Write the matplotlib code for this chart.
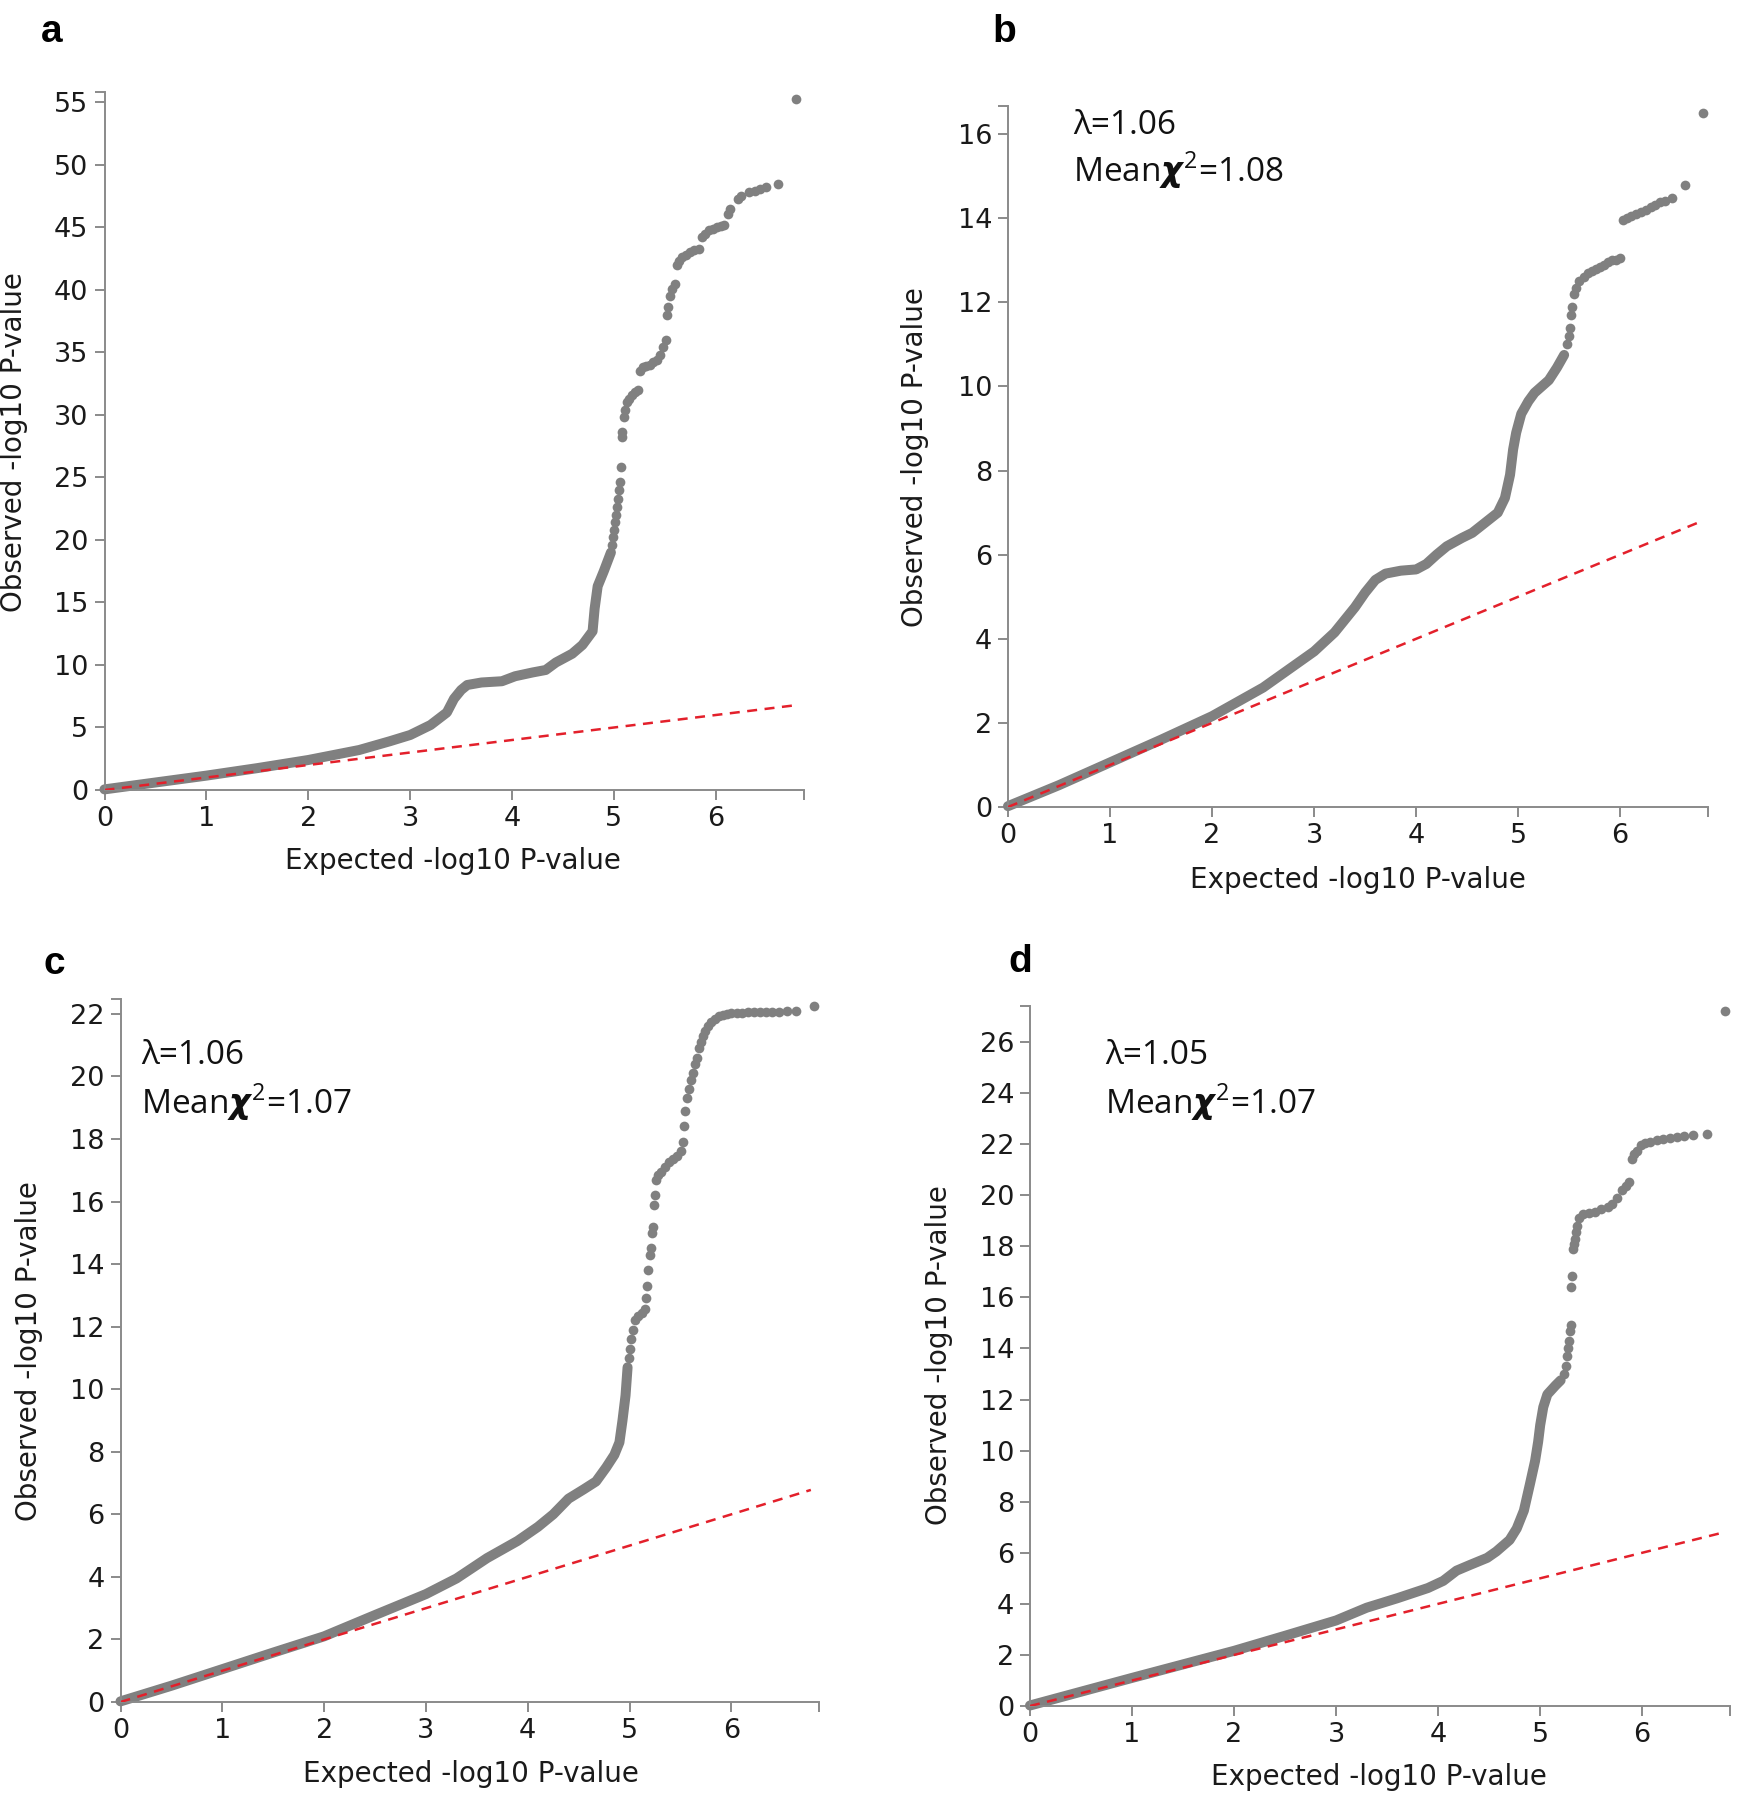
import matplotlib
matplotlib.use("Agg")
import matplotlib.pyplot as plt

# ---------------- data ----------------
expected_line = [0.0, 6.78]

a_dense_x = [0, 0.5, 1.0, 1.5, 2.0, 2.5, 2.8, 3.0, 3.2, 3.36, 3.43, 3.5, 3.56, 3.7, 3.9,
             4.03, 4.2, 4.33, 4.43, 4.59, 4.69, 4.79, 4.81, 4.84, 4.9, 4.97]
a_dense_y = [0.05, 0.6, 1.15, 1.75, 2.4, 3.2, 3.9, 4.4, 5.2, 6.2, 7.3, 8.0, 8.4, 8.6, 8.7,
             9.1, 9.4, 9.6, 10.2, 10.9, 11.6, 12.7, 14.5, 16.3, 17.5, 19.0]
a_tail_x = [4.98, 4.99, 5.0, 5.01, 5.02, 5.03, 5.04, 5.05, 5.06, 5.07, 5.08, 5.08, 5.10, 5.11,
            5.13, 5.15, 5.18, 5.21, 5.24, 5.26, 5.28, 5.31, 5.35, 5.38, 5.42, 5.45, 5.48, 5.51,
            5.52, 5.53, 5.55, 5.57, 5.60, 5.62, 5.64, 5.67, 5.71, 5.75, 5.79, 5.83, 5.86, 5.89,
            5.93, 5.97, 6.01, 6.05, 6.08, 6.12, 6.14, 6.22, 6.25, 6.33, 6.38, 6.43, 6.49, 6.61, 6.79]
a_tail_y = [19.6, 20.2, 20.8, 21.4, 22.0, 22.6, 23.3, 24.0, 24.6, 25.8, 28.2, 28.6, 29.8, 30.4,
            31.0, 31.3, 31.6, 31.8, 32.0, 33.5, 33.8, 33.9, 34.0, 34.2, 34.4, 34.8, 35.4, 36.0,
            38.0, 38.6, 39.5, 40.1, 40.5, 42.0, 42.3, 42.6, 42.8, 43.0, 43.2, 43.3, 44.2, 44.5,
            44.8, 44.9, 45.0, 45.1, 45.2, 46.1, 46.5, 47.3, 47.5, 47.8, 47.9, 48.1, 48.2, 48.5, 55.3]

b_dense_x = [0, 0.5, 1.0, 1.5, 2.0, 2.5, 3.0, 3.2, 3.4, 3.5, 3.6, 3.7, 3.85, 4.0, 4.1, 4.2, 4.3,
             4.45, 4.55, 4.67, 4.8, 4.87, 4.92, 4.95, 4.98, 5.03, 5.1, 5.16, 5.3, 5.38, 5.45]
b_dense_y = [0.02, 0.52, 1.06, 1.6, 2.16, 2.84, 3.7, 4.15, 4.75, 5.1, 5.4, 5.55, 5.62, 5.65, 5.78,
             6.0, 6.2, 6.4, 6.52, 6.75, 7.0, 7.35, 7.9, 8.5, 8.9, 9.35, 9.65, 9.85, 10.15, 10.45, 10.75]
b_tail_x = [5.48, 5.50, 5.51, 5.52, 5.53, 5.55, 5.57, 5.6, 5.64, 5.68, 5.72, 5.76, 5.80, 5.84,
            5.88, 5.92, 5.96, 6.0, 6.03, 6.07, 6.11, 6.15, 6.2, 6.25, 6.3, 6.34, 6.39, 6.44,
            6.51, 6.63, 6.81]
b_tail_y = [11.0, 11.2, 11.4, 11.7, 11.9, 12.2, 12.35, 12.5, 12.6, 12.7, 12.75, 12.8, 12.85, 12.9,
            12.95, 13.0, 13.02, 13.05, 13.95, 14.0, 14.05, 14.1, 14.15, 14.2, 14.28, 14.32, 14.38,
            14.42, 14.48, 14.8, 16.5]

c_dense_x = [0, 0.5, 1.0, 1.5, 2.0, 2.5, 3.0, 3.3, 3.6, 3.9, 4.1, 4.25, 4.4, 4.55, 4.67, 4.77,
             4.85, 4.9, 4.93, 4.96, 4.98]
c_dense_y = [0.02, 0.52, 1.05, 1.58, 2.1, 2.78, 3.45, 3.95, 4.6, 5.15, 5.6, 6.0, 6.5, 6.8, 7.05,
             7.5, 7.9, 8.3, 9.0, 9.8, 10.7]
c_tail_x = [4.99, 5.0, 5.01, 5.03, 5.05, 5.08, 5.12, 5.15, 5.16, 5.17, 5.18, 5.2, 5.21, 5.22,
            5.23, 5.24, 5.25, 5.26, 5.28, 5.31, 5.35, 5.39, 5.43, 5.47, 5.5, 5.52, 5.53, 5.54,
            5.56, 5.58, 5.6, 5.62, 5.64, 5.66, 5.68, 5.7, 5.72, 5.74, 5.77, 5.8, 5.84, 5.88,
            5.92, 5.96, 6.0, 6.05, 6.1, 6.16, 6.22, 6.28, 6.34, 6.4, 6.47, 6.55, 6.63, 6.81]
c_tail_y = [11.0, 11.3, 11.6, 11.9, 12.2, 12.35, 12.45, 12.55, 12.9, 13.3, 13.8, 14.3, 14.5, 15.0,
            15.2, 15.9, 16.2, 16.7, 16.85, 16.95, 17.1, 17.25, 17.35, 17.45, 17.6, 17.9, 18.4,
            18.9, 19.3, 19.6, 19.9, 20.1, 20.4, 20.6, 20.9, 21.1, 21.3, 21.45, 21.6, 21.75,
            21.85, 21.92, 21.97, 22.0, 22.02, 22.03, 22.04, 22.05, 22.05, 22.06, 22.06, 22.07,
            22.07, 22.08, 22.1, 22.24]

d_dense_x = [0, 0.5, 1.0, 1.5, 2.0, 2.5, 3.0, 3.3, 3.6, 3.9, 4.05, 4.18, 4.31, 4.48, 4.57, 4.7,
             4.77, 4.84, 4.9, 4.95, 4.98, 5.0, 5.03, 5.07, 5.15, 5.2]
d_dense_y = [0.02, 0.56, 1.1, 1.63, 2.16, 2.75, 3.35, 3.85, 4.22, 4.62, 4.9, 5.3, 5.52, 5.8, 6.05,
             6.5, 6.95, 7.65, 8.7, 9.6, 10.35, 11.0, 11.7, 12.2, 12.55, 12.75]
d_tail_x = [5.23, 5.25, 5.26, 5.27, 5.28, 5.29, 5.30, 5.30, 5.31, 5.32, 5.33, 5.34, 5.35, 5.36,
            5.38, 5.42, 5.48, 5.54, 5.6, 5.66, 5.7, 5.75, 5.8, 5.84, 5.87, 5.9, 5.92, 5.95,
            5.99, 6.03, 6.08, 6.14, 6.2, 6.27, 6.34, 6.41, 6.5, 6.63, 6.81]
d_tail_y = [13.0, 13.3, 13.7, 14.0, 14.3, 14.7, 14.9, 16.4, 16.85, 17.9, 18.1, 18.3, 18.55, 18.8,
            19.1, 19.25, 19.3, 19.35, 19.45, 19.55, 19.65, 19.9, 20.2, 20.35, 20.5, 21.4, 21.6,
            21.75, 21.95, 22.05, 22.1, 22.15, 22.2, 22.25, 22.28, 22.32, 22.37, 22.4, 27.2]

panel_letters = ["a", "b", "c", "d"]
x_ticks = [0, 1, 2, 3, 4, 5, 6]
a_yticks = [0, 5, 10, 15, 20, 25, 30, 35, 40, 45, 50, 55]
b_yticks = [0, 2, 4, 6, 8, 10, 12, 14, 16]
c_yticks = [0, 2, 4, 6, 8, 10, 12, 14, 16, 18, 20, 22]
d_yticks = [0, 2, 4, 6, 8, 10, 12, 14, 16, 18, 20, 22, 24, 26]
b_stats = ["λ=1.06", r"Mean$\chi^2$=1.08"]
c_stats = ["λ=1.06", r"Mean$\chi^2$=1.07"]
d_stats = ["λ=1.05", r"Mean$\chi^2$=1.07"]
x_label = "Expected -log10 P-value"
y_label = "Observed -log10 P-value"

# ---------------- figure ----------------
W, H = 1744, 1800
plt.rcParams["font.family"] = ["DejaVu Sans"]
plt.rcParams["mathtext.fontset"] = "custom"
plt.rcParams["mathtext.rm"] = "Open Sans"
plt.rcParams["mathtext.it"] = "DejaVu Sans:italic:bold"
fig = plt.figure(figsize=(W / 100, H / 100), dpi=100)

GRAY = "#808080"
AX = "#8a8a8a"
RED = "#e3202b"
TXT = "#1a1a1a"
XMAX = 6.86

# axes boxes in pixels: left, right, bottom(px from top), top(px from top), ymax
boxes = {
    "a": (104.5, 803.5, 790, 91.8, 55.85),
    "b": (1008, 1708, 807, 105.6, 16.68),
    "c": (120.5, 819, 1702, 998.8, 22.48),
    "d": (1030, 1730, 1706, 1005.7, 27.42),
}
series = {
    "a": (a_dense_x, a_dense_y, a_tail_x, a_tail_y, a_yticks, None),
    "b": (b_dense_x, b_dense_y, b_tail_x, b_tail_y, b_yticks, b_stats),
    "c": (c_dense_x, c_dense_y, c_tail_x, c_tail_y, c_yticks, c_stats),
    "d": (d_dense_x, d_dense_y, d_tail_x, d_tail_y, d_yticks, d_stats),
}
letter_pos = {"a": (52, 32), "b": (1004, 32), "c": (54, 964), "d": (1020, 962)}
xlabel_pos = {"a": (453, 861), "b": (1358, 880), "c": (471, 1774), "d": (1379, 1777)}
ylabel_pos = {"a": (14, 442), "b": (915, 457), "c": (29, 1351), "d": (939, 1355)}
stats_pos = {"b": (1073, 126, 170), "c": (141, 1056, 1102), "d": (1105, 1056, 1102)}

for key in panel_letters:
    l, r, b, t, ymax = boxes[key]
    ax = fig.add_axes([l / W, 1 - b / H, (r - l) / W, (b - t) / H])
    dx, dy, tx, ty, yt, stats = series[key]
    ax.plot(dx, dy, color=GRAY, lw=7.2, solid_capstyle="round", solid_joinstyle="round",
            clip_on=False, zorder=2)
    ax.plot(tx, ty, "o", color=GRAY, ms=7.0, mew=0, clip_on=False, zorder=2)
    ax.plot(expected_line, expected_line, color=RED, lw=1.8, ls=(0, (4, 3)), zorder=3)
    ax.set_xlim(0, XMAX)
    ax.set_ylim(0, ymax)
    ax.set_xticks(x_ticks)
    ax.set_yticks(yt)
    ax.set_xticks([XMAX], minor=True)
    ax.set_yticks([ymax], minor=True)
    for s in ("top", "right"):
        ax.spines[s].set_visible(False)
    for s in ("left", "bottom"):
        ax.spines[s].set_color(AX)
        ax.spines[s].set_linewidth(1.4)
    ax.tick_params(which="both", direction="out", length=7.5, width=1.4, color=AX,
                   labelsize=19.5, labelcolor=TXT, pad=4)
    ax.tick_params(which="minor", labelbottom=False, labelleft=False)
    ax.patch.set_alpha(0)

    px, py = letter_pos[key]
    fig.text(px / W, 1 - py / H, key, fontsize=28, fontweight="bold", ha="center", va="center",
             family="Liberation Sans")
    px, py = xlabel_pos[key]
    fig.text(px / W, 1 - py / H, x_label, fontsize=20, ha="center", va="center", color=TXT)
    px, py = ylabel_pos[key]
    fig.text(px / W, 1 - py / H, y_label, fontsize=20, ha="center", va="center", rotation=90,
             color=TXT)
    if stats:
        sx, s1, s2 = stats_pos[key]
        fig.text(sx / W, 1 - s1 / H, stats[0], fontsize=24, ha="left", va="center",
                 family=["Open Sans", "DejaVu Sans"], color="#111111")
        fig.text(sx / W, 1 - s2 / H, stats[1], fontsize=24, ha="left", va="center",
                 family=["Open Sans", "DejaVu Sans"], color="#111111")

fig.savefig("out.png", dpi=100, facecolor="white")
